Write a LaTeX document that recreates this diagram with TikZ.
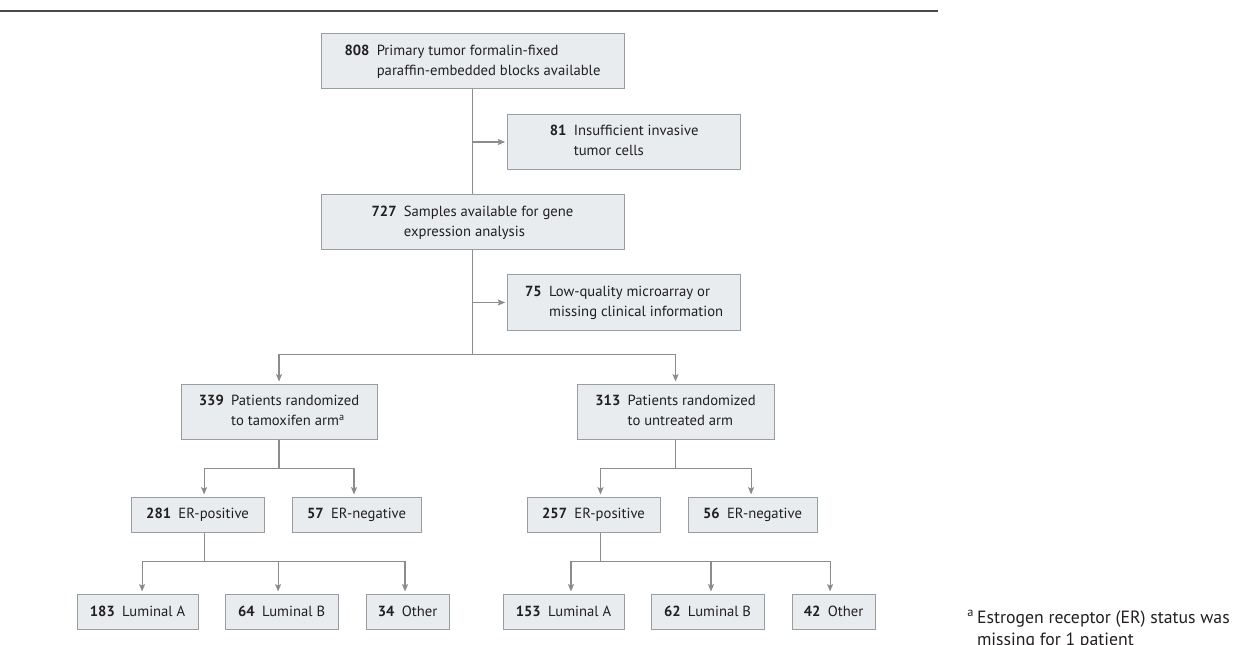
\documentclass[tikz,border=0pt]{standalone}
\usepackage{fontspec}
\setmainfont{PT Sans}
\usetikzlibrary{positioning,arrows.meta,calc}
\definecolor{boxfill}{HTML}{E8ECEF}
\definecolor{boxline}{HTML}{989DA2}
\definecolor{flow}{HTML}{8C8C8C}
\definecolor{ink}{HTML}{231F20}
\definecolor{rulec}{HTML}{4A4A4A}
\newcommand{\cnt}[2]{\textbf{#1}\hspace{0.5em}\begin{tabular}[t]{@{}l@{}}#2\end{tabular}}

\begin{document}
\begin{tikzpicture}[x=0.75pt,y=-0.75pt,font=\fontsize{11}{15}\selectfont,text=ink,
  box/.style={draw=boxline,fill=boxfill,line width=0.75pt,align=center,inner sep=2pt,minimum height=41.25pt},
  sbox/.style={box,minimum height=26.25pt},
  link/.style={draw=flow,line width=0.85pt},
  arr/.style={link,->,shorten >=1.5pt},
  >={Stealth[length=5.5pt,width=4.5pt,inset=1pt]}]
\useasboundingbox (0,0) rectangle (1238,645);
\draw[rulec,line width=1.3pt] (0,11) -- (938,11);
\node[box,minimum width=227.25pt] (P) at (472.5,61.5) {\cnt{808}{Primary tumor formalin-fixed\\paraffin-embedded blocks available}};
\node[box,minimum width=227.25pt,below=78.75pt of P] (G) {\cnt{727}{Samples available for gene\\expression analysis}};
\coordinate (t1) at ($(P.south)!0.5!(G.north)$);
\node[box,minimum width=174.75pt,right=26pt of t1] (X1) {\cnt{81}{Insufficient invasive\\tumor cells}};
\coordinate (sp) at ([yshift=-78pt]G.south);
\coordinate (t2) at ($(G.south)!0.5!(sp)$);
\node[box,minimum width=174.75pt,right=26pt of t2] (X2) {\cnt{75}{Low-quality microarray or\\missing clinical information}};
\node[box,minimum width=147pt,anchor=north] (Tam) at ([xshift=-145.1pt,yshift=-99.75pt]G.south) {\cnt{339}{Patients randomized\\to tamoxifen arm\textsuperscript{a}}};
\node[box,minimum width=147.75pt,right=149.25pt of Tam] (Unt) {\cnt{313}{Patients randomized\\to untreated arm}};
\node[sbox,minimum width=99.75pt,anchor=north] (TP) at ([xshift=-61.1pt,yshift=-42.75pt]Tam.south) {\textbf{281}\hspace{0.5em}ER-positive};
\node[sbox,minimum width=96.75pt,right=20.25pt of TP] (TN) {\textbf{57}\hspace{0.5em}ER-negative};
\node[sbox,minimum width=99.75pt,anchor=north] (UP) at ([xshift=-61.5pt,yshift=-42.75pt]Unt.south) {\textbf{257}\hspace{0.5em}ER-positive};
\node[sbox,minimum width=96.75pt,right=20.25pt of UP] (UN) {\textbf{56}\hspace{0.5em}ER-negative};
\node[sbox,minimum width=90.75pt,anchor=north] (TA) at ([xshift=-45pt,yshift=-45.75pt]TP.south) {\textbf{183}\hspace{0.5em}Luminal A};
\node[sbox,minimum width=84.75pt,right=19.5pt of TA] (TB) {\textbf{64}\hspace{0.5em}Luminal B};
\node[sbox,minimum width=62.25pt,right=20.25pt of TB] (TO) {\textbf{34}\hspace{0.5em}Other};
\node[sbox,minimum width=90.75pt,anchor=north] (UA) at ([xshift=-22.5pt,yshift=-45.75pt]UP.south) {\textbf{153}\hspace{0.5em}Luminal A};
\node[sbox,minimum width=84.75pt,right=19.5pt of UA] (UB) {\textbf{62}\hspace{0.5em}Luminal B};
\node[sbox,minimum width=62.25pt,right=20.25pt of UB] (UO) {\textbf{42}\hspace{0.5em}Other};
\node[anchor=base west,inner sep=0pt,font=\fontsize{13.3}{16.5}\selectfont] (fn) at (967,623) {\textsuperscript{a}\,\begin{tabular}[t]{@{}l@{}}Estrogen receptor (ER) status was\\missing for 1 patient\end{tabular}};
\draw[link] (P) -- (G);
\draw[arr] (t1) -- (X1);
\draw[link] (G) -- (sp);
\draw[arr] (t2) -- (X2);
\draw[arr] (sp) -| (Tam.north);
\draw[arr] (sp) -| (Unt.north);
\coordinate (sa) at ([yshift=-21.75pt]Tam.south);
\draw[link] (Tam.south) -- (sa);
\draw[arr] (sa) -| ([xshift=4.9pt]TP.north);
\draw[arr] (sa) -| ([xshift=-1.9pt]TN.north);
\coordinate (sb) at ([xshift=4.9pt,yshift=-21.75pt]TP.south);
\draw[link] ([xshift=4.9pt]TP.south) -- (sb);
\draw[arr] (sb) -| ([xshift=3.4pt]TA.north);
\draw[arr] (sb) -| ([xshift=-2.6pt]TB.north);
\draw[arr] (sb) -| ([xshift=-1.9pt]TO.north);
\coordinate (su) at ([yshift=-21.75pt]Unt.south);
\draw[link] (Unt.south) -- (su);
\draw[arr] (su) -| ([xshift=5.2pt]UP.north);
\draw[arr] (su) -| ([xshift=-1.1pt]UN.north);
\coordinate (sv) at ([xshift=5.2pt,yshift=-21.75pt]UP.south);
\draw[link] ([xshift=5.2pt]UP.south) -- (sv);
\draw[arr] (sv) -| ([xshift=5.6pt]UA.north);
\draw[arr] (sv) -| ([xshift=2.6pt]UB.north);
\draw[arr] (sv) -| ([xshift=-2.6pt]UO.north);
\end{tikzpicture}
\end{document}
